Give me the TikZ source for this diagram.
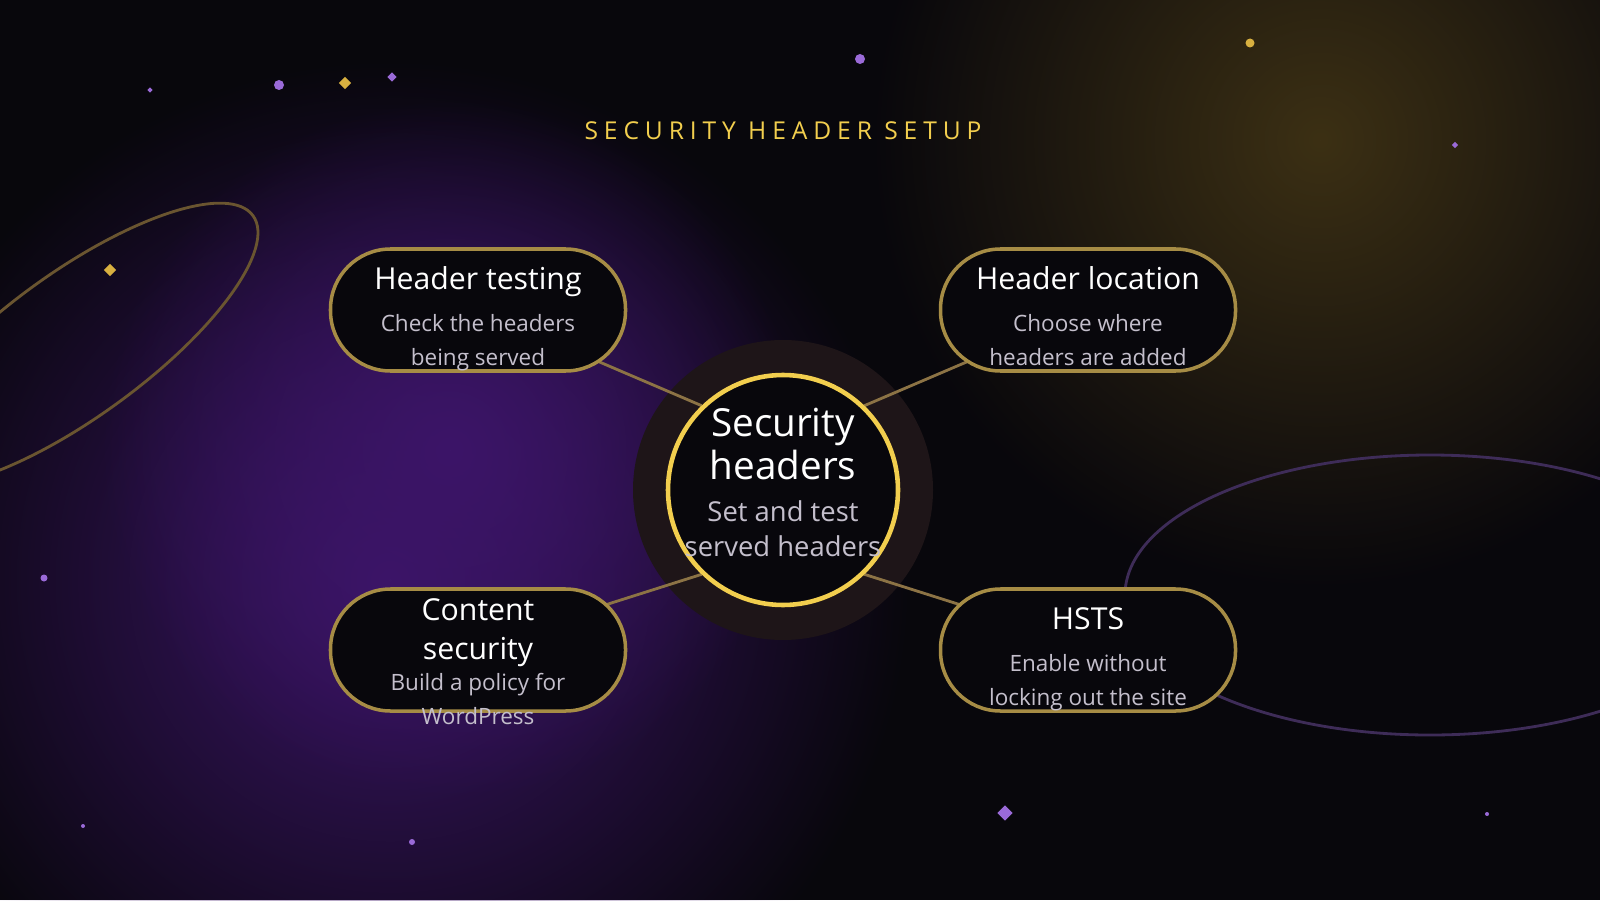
\documentclass[tikz,border=0pt]{standalone}
\usepackage{fontspec}
\setmainfont{Open Sans}
\usetikzlibrary{shapes.misc,shapes.geometric,fadings,calc}
\pgfdeclarelayer{back}
\pgfsetlayers{back,main}
\definecolor{bg}{HTML}{08070C}
\definecolor{gold}{HTML}{F2CE4E}
\definecolor{pillb}{HTML}{A68C45}
\definecolor{conn}{HTML}{8C7345}
\definecolor{sub}{HTML}{C4BFCC}
\definecolor{purp}{HTML}{3C1568}
\definecolor{dpurp}{HTML}{9A6AD8}
\definecolor{gl}{HTML}{3C3014}
\definecolor{ell1}{HTML}{6A5530}
\definecolor{ell2}{HTML}{3E2C58}
\definecolor{halo}{HTML}{1E1518}
\definecolor{dg}{HTML}{D8B040}
\tikzfading[name=glowfade, inner color=transparent!0, outer color=transparent!100]
\tikzset{
 pill/.style={rectangle, rounded corners=0.6cm, draw=pillb, line width=1pt, fill=bg, minimum width=2.95cm, minimum height=1.22cm, align=center, inner sep=0pt, text=white},
 link/.style={draw=conn, line width=0.8pt},
 dot/.style={circle, inner sep=0pt, minimum size=#1},
 dia/.style={diamond, inner sep=0pt, minimum size=#1}
}
\newcommand{\bigf}{\fontsize{8.6}{10.5}\selectfont}
\newcommand{\smf}{\fontsize{6.4}{7.8}\selectfont\color{sub}}
\newcommand{\zb}[2][-5pt]{\raisebox{#1}[0pt][0pt]{#2}}
\newcommand{\ptext}[3]{\zb{\renewcommand{\arraystretch}{1}\begin{tabular}{@{}c@{}}\bigf #1\\[0pt]\smf #2\\[-2.5pt]\smf #3\end{tabular}}}
\begin{document}
\begin{tikzpicture}
\useasboundingbox (0,0) rectangle (16,9);
\begin{pgfonlayer}{back}
\fill[bg] (0,0) rectangle (16,9);
\fill[purp, path fading=glowfade] (3.9,3.2) circle (5.2);
\fill[purp, path fading=glowfade] (4.5,4.5) circle (3.5);
\fill[gl, path fading=glowfade] (13.2,7.6) circle (4.5);
\draw[ell1,line width=0.8pt] (0.75,5.55) ellipse[x radius=2.2cm, y radius=0.72cm, rotate=36];
\draw[ell2,line width=0.8pt] (14.3,3.05) ellipse[x radius=3.05cm, y radius=1.4cm];
\fill[halo] (7.83,4.1) circle (1.5);
\end{pgfonlayer}
\node[text=gold, font=\fontsize{7}{8}\selectfont\addfontfeature{LetterSpace=24}] (title) at (7.83,7.69) {SECURITY HEADER SETUP};
\node[circle, draw=gold, line width=1.3pt, fill=bg, minimum size=2.3cm, inner sep=0pt, text=white] (c) at (7.83,4.1) {\zb[-2pt]{\renewcommand{\arraystretch}{1}\begin{tabular}{@{}c@{}}\fontsize{11}{12.5}\selectfont Security\\[0pt]\fontsize{11}{12.5}\selectfont headers\\[0pt]\fontsize{7.8}{8.8}\selectfont\color{sub}Set and test\\[-2pt]\fontsize{7.8}{8.8}\selectfont\color{sub}served headers\end{tabular}}};
\node[pill] (ht) at (4.78,5.9) {\ptext{Header testing}{Check the headers}{being served}};
\node[pill] (hl) at (10.88,5.9) {\ptext{Header location}{Choose where}{headers are added}};
\node[pill] (cs) at (4.78,2.5) {\zb[-6.5pt]{\renewcommand{\arraystretch}{1}\begin{tabular}{@{}c@{}}\bigf Content\\[-1pt]\bigf security\\[-3pt]\smf Build a policy for\\[-2.5pt]\smf WordPress\end{tabular}}};
\node[pill] (hs) at (10.88,2.5) {\ptext{HSTS}{Enable without}{locking out the site}};
\begin{pgfonlayer}{back}
\draw[link] (c.134) -- ($(ht.center)+(0.42,-0.18)$);
\draw[link] (c.46) -- ($(hl.center)+(-0.42,-0.18)$);
\draw[link] (c.226) -- ($(cs.center)+(0.42,0.18)$);
\draw[link] (c.-46) -- ($(hs.center)+(-0.42,0.18)$);
\end{pgfonlayer}
\node[dot=0.1cm, fill=dpurp] (d1) at (2.79,8.15) {};
\node[dot=0.1cm, fill=dpurp] (d2) at (8.6,8.41) {};
\node[dot=0.09cm, fill=dg] (d3) at (12.5,8.57) {};
\node[dot=0.07cm, fill=dpurp] (d4) at (0.44,3.22) {};
\node[dot=0.06cm, fill=dpurp] (d5) at (4.12,0.58) {};
\node[dot=0.04cm, fill=dpurp] (d6) at (0.83,0.74) {};
\node[dot=0.04cm, fill=dpurp] (d7) at (14.87,0.86) {};
\node[dia=0.13cm, fill=dg] (g1) at (3.45,8.17) {};
\node[dia=0.13cm, fill=dg] (g2) at (1.1,6.3) {};
\node[dia=0.1cm, fill=dpurp] (g3) at (3.92,8.23) {};
\node[dia=0.06cm, fill=dpurp] (g4) at (1.5,8.1) {};
\node[dia=0.07cm, fill=dpurp] (g5) at (14.55,7.55) {};
\node[dia=0.16cm, fill=dpurp] (g6) at (10.05,0.87) {};
\end{tikzpicture}
\end{document}
